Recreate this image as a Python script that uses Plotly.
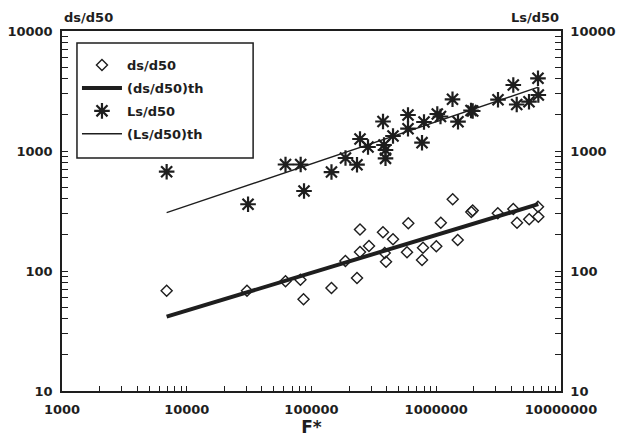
import plotly.graph_objects as go

# ---- data ----
F_ds = [6900, 30400, 61900, 81500, 86300, 144600, 187000, 231600, 244800, 244800,
        289000, 374000, 386200, 395600, 450200, 582900, 597000, 768900, 783200,
        1001000, 1087700, 1355000, 1486000, 1910000, 1960000, 3115000, 4146000,
        4440000, 5560000, 6540000, 6580000]
ds_d50 = [68.5, 68.5, 82.1, 84.6, 58.2, 72.2, 121.2, 87.4, 221.7, 144,
          161.6, 210.1, 141.3, 119.6, 184.1, 143.4, 249.7, 123.5, 156.1,
          160.9, 252.6, 395.8, 181.3, 310.1, 319.2, 302.6, 328.6,
          252.6, 270.2, 343.5, 283.5]

F_Ls = [6900, 31000, 61900, 81900, 87100, 144600, 187300, 231600, 244800, 283800,
        374300, 381300, 392000, 392000, 450200, 593700, 593700, 768900, 797700,
        1019500, 1081700, 1350000, 1494000, 1900000, 1960000, 3126000, 4146000,
        4416000, 5540000, 6540000, 6580000]
Ls_d50 = [672, 360, 772, 772, 464, 668, 874, 769, 1259, 1080,
          1762, 1122, 1019, 869, 1334, 1995, 1534, 1173, 1745,
          2034, 1939, 2697, 1755, 2175, 2154, 2676, 3548,
          2441, 2575, 4035, 2929]

F_th = [6900, 6580000]
ds_th = [41.6, 361]
Ls_th = [306, 3400]

x_decades = [1000, 10000, 100000, 1000000, 10000000]
x_labels = ["1000", "10000", "100000", "1000000", "10000000"]
y_decades = [10, 100, 1000, 10000]
y_labels = ["10", "100", "1000", "10000"]


def log_ticks(decades, labels):
    vals, texts = [], []
    for i, d in enumerate(decades):
        vals.append(d)
        texts.append(labels[i])
        if i < len(decades) - 1:
            for m in range(2, 10):
                vals.append(m * d)
                texts.append("")
    return vals, texts


x_tickvals, x_ticktext = log_ticks(x_decades, x_labels)
y_tickvals, y_ticktext = log_ticks(y_decades, y_labels)

INK = "#1e1e1e"
FONT = "DejaVu Sans"

fig = go.Figure()
fig.add_trace(go.Scatter(
    x=F_ds, y=ds_d50, mode="markers", name="ds/d50", legendgroup="a",
    marker=dict(symbol="diamond-open", size=8.5, color=INK, line=dict(width=1.4, color=INK))))
fig.add_trace(go.Scatter(
    x=F_th, y=ds_th, mode="lines", name="(ds/d50)th", legendgroup="b",
    line=dict(color=INK, width=4)))
fig.add_trace(go.Scatter(
    x=F_Ls, y=Ls_d50, mode="markers", name="Ls/d50", legendgroup="c",
    marker=dict(symbol="asterisk-open", size=13, color=INK, line=dict(width=2.2, color=INK))))
fig.add_trace(go.Scatter(
    x=F_th, y=Ls_th, mode="lines", name="(Ls/d50)th", legendgroup="d",
    line=dict(color=INK, width=1.3)))
# placeholder on the right axis so it is drawn
fig.add_trace(go.Scatter(x=[], y=[], yaxis="y2", showlegend=False, hoverinfo="skip"))

tickfont = dict(family=FONT, size=13, color=INK, weight="bold")

yax_common = dict(
    type="log", range=[1, 4], tickmode="array", tickvals=y_tickvals, ticktext=y_ticktext,
    ticks="inside", ticklen=6, tickwidth=1.2, tickcolor=INK,
    showline=True, linecolor=INK, linewidth=1.5,
    showgrid=False, zeroline=False, tickfont=tickfont, ticklabelstandoff=5,
    automargin=False,
)

fig.update_layout(
    width=622, height=444,
    margin=dict(l=62, r=61, t=31, b=53, autoexpand=False),
    paper_bgcolor="white", plot_bgcolor="white",
    showlegend=True,
    xaxis=dict(
        type="log", range=[3, 7], tickmode="array", tickvals=x_tickvals, ticktext=x_ticktext,
        ticks="inside", ticklen=5, tickwidth=1.2, tickcolor=INK,
        showline=True, linecolor=INK, linewidth=1.5, mirror=True,
        showgrid=False, zeroline=False, tickfont=tickfont, ticklabelstandoff=6,
        automargin=False,
        title=dict(text="F*", font=dict(family=FONT, size=17, color=INK, weight="bold"), standoff=2),
    ),
    yaxis=dict(yax_common, mirror=True),
    yaxis2=dict(yax_common, overlaying="y", side="right"),
    legend=dict(
        x=0.03, y=0.947, xanchor="left", yanchor="top",
        bgcolor="rgba(0,0,0,0)", borderwidth=0,
        font=dict(family=FONT, size=13, color=INK, weight="bold"),
        tracegroupgap=3, itemwidth=40,
    ),
    shapes=[
        dict(type="rect", xref="paper", yref="paper", x0=0.030, x1=0.383, y0=0.647, y1=0.967,
             line=dict(color=INK, width=1.5), fillcolor="white", layer="below"),
    ],
    annotations=[
        dict(text="ds/d50", xref="paper", yref="paper", x=0.0, y=1.0, xanchor="left", yanchor="bottom",
             yshift=4, showarrow=False, font=dict(family=FONT, size=13, color=INK, weight="bold")),
        dict(text="Ls/d50", xref="paper", yref="paper", x=1.0, y=1.0, xanchor="right", yanchor="bottom",
             yshift=4, showarrow=False, font=dict(family=FONT, size=13, color=INK, weight="bold")),
    ],
)

fig.write_html("out.html", config={"displayModeBar": False},
               post_script="document.body.style.margin='0px';")
